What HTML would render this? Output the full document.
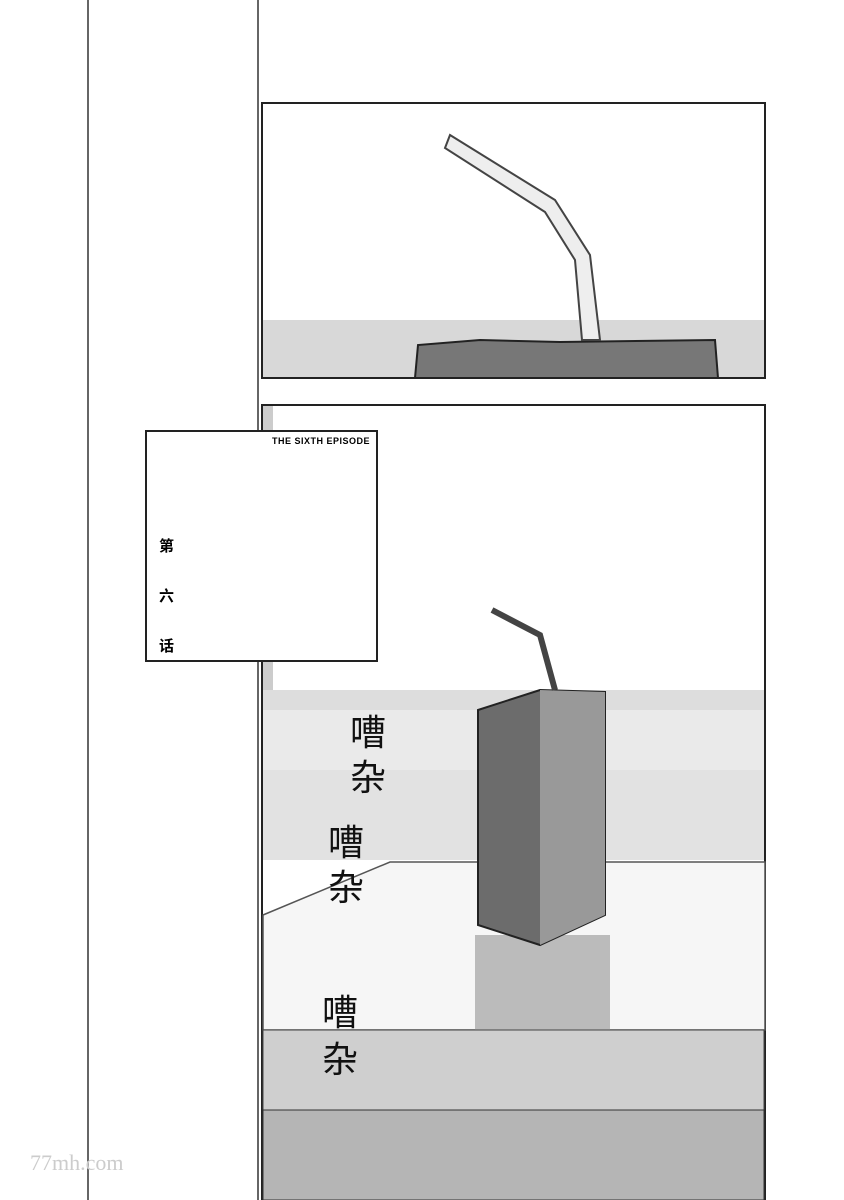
<!DOCTYPE html>
<html><head><meta charset="utf-8"><style>
body{margin:0;background:#fff;}
svg{display:block;}
</style></head><body>
<svg width="844" height="1200" viewBox="0 0 844 1200" xmlns="http://www.w3.org/2000/svg">
<rect width="844" height="1200" fill="#fff"/>
<line x1="88" y1="0" x2="88" y2="1200" stroke="#333" stroke-width="1.5"/>
<line x1="258" y1="0" x2="258" y2="1200" stroke="#333" stroke-width="1.5"/>
<!-- top panel -->
<rect x="262" y="103" width="503" height="275" fill="#fff" stroke="#222" stroke-width="2"/>
<rect x="263" y="320" width="501" height="57" fill="#d8d8d8"/>
<path d="M415 378 L418 345 L480 340 L560 342 L715 340 L718 378 Z" fill="#777" stroke="#222" stroke-width="2"/>
<path d="M450 135 L555 200 L590 255 L600 340 L582 340 L575 260 L545 212 L445 148 Z" fill="#eee" stroke="#444" stroke-width="2"/>
<!-- bottom panel -->
<rect x="262" y="405" width="503" height="795" fill="#fff" stroke="#222" stroke-width="2"/>
<rect x="263" y="406" width="10" height="290" fill="#ccc"/>
<rect x="263" y="690" width="501" height="20" fill="#ddd"/>
<rect x="263" y="710" width="501" height="60" fill="#eaeaea"/>
<rect x="263" y="770" width="501" height="90" fill="#e2e2e2"/>
<path d="M263 915 L390 862 L765 862 L765 1030 L263 1030 Z" fill="#f6f6f6" stroke="#555" stroke-width="1.5"/>
<rect x="475" y="935" width="135" height="95" fill="#bbb"/>
<rect x="263" y="1030" width="501" height="80" fill="#cfcfcf" stroke="#444"/>
<rect x="263" y="1110" width="501" height="90" fill="#b5b5b5" stroke="#333"/>
<path d="M478 710 L540 690 L605 692 L605 915 L540 945 L478 925 Z" fill="#6c6c6c" stroke="#222" stroke-width="2"/>
<path d="M540 690 L605 692 L605 915 L540 945 Z" fill="#999"/>
<path d="M492 610 L540 635 L555 690" fill="none" stroke="#444" stroke-width="6"/>
<!-- title box -->
<rect x="146" y="431" width="231" height="230" fill="#fff" stroke="#222" stroke-width="2"/>
<text x="370" y="444" text-anchor="end" font-family="Liberation Sans, sans-serif" font-size="9" font-weight="bold" letter-spacing="0.5">THE SIXTH EPISODE</text>
<g font-family="Liberation Sans, Noto Sans CJK SC, sans-serif" font-size="15" font-weight="bold">
<text x="159" y="551">第</text>
<text x="159" y="601">六</text>
<text x="159" y="651">话</text>
</g>
<g font-family="Liberation Sans, Noto Sans CJK SC, sans-serif" font-size="36" fill="#111">
<text x="350" y="745">嘈</text><text x="350" y="790">杂</text>
<text x="328" y="855">嘈</text><text x="328" y="900">杂</text>
<text x="322" y="1025">嘈</text><text x="322" y="1072">杂</text>
</g>
<text x="30" y="1170" font-family="Liberation Serif, serif" font-size="22" fill="#ccc">77mh.com</text>
</svg>
</body></html>
